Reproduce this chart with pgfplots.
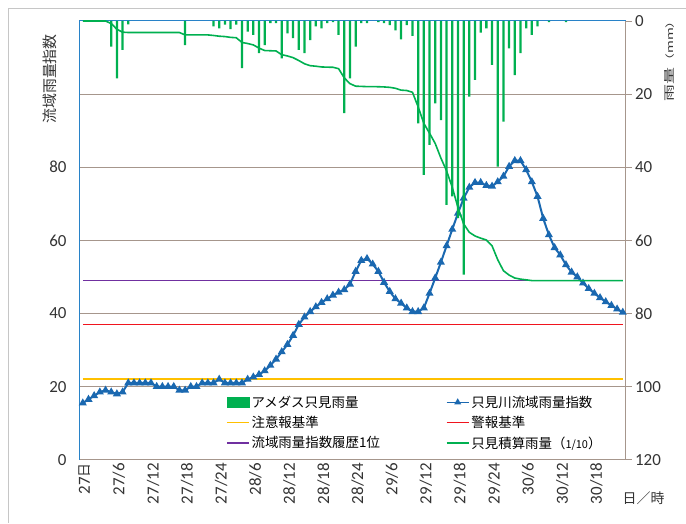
\documentclass[border=0pt]{standalone}
\usepackage{pgfplots}
\usepackage{pgfplotstable}
\pgfplotsset{compat=1.18}
\usepackage{fontspec}
\setmainfont{Carlito}
\newfontfamily\jp{Noto Sans CJK JP}
\definecolor{cblue}{RGB}{26,104,176}
\definecolor{cgreen}{RGB}{0,176,80}
\definecolor{cyellow}{RGB}{255,192,0}
\definecolor{cred}{RGB}{240,20,30}
\definecolor{cpurple}{RGB}{112,48,160}
\definecolor{cgrid}{RGB}{166,150,140}
\definecolor{caxblue}{RGB}{40,130,200}

\pgfplotstableread{
i v
0 15.5
1 16.5
2 17.5
3 18.5
4 19
5 18.5
6 18
7 18.5
8 21
9 21
10 21
11 21
12 21
13 20
14 20
15 20
16 20
17 19
18 19
19 20
20 20
21 21
22 21
23 21
24 22
25 21
26 21
27 21
28 21
29 22
30 22.6
31 23.3
32 24.3
33 25.8
34 27.5
35 29.5
36 31.5
37 34
38 37
39 39
40 40.5
41 41.8
42 43
43 44
44 45
45 45.8
46 46.5
47 48
48 51.5
49 54.5
50 55
51 53.5
52 51.5
53 48.5
54 46
55 44
56 42.8
57 41.5
58 40.5
59 40.5
60 41.5
61 45.5
62 49.7
63 54
64 58.5
65 63
66 67.4
67 71.5
68 74.5
69 75.8
70 75.8
71 75
72 74.8
73 76
74 77.5
75 80.2
76 81.8
77 81.8
78 79.3
79 76
80 72
81 66
82 61.5
83 58
84 56
85 53.3
86 51.3
87 50
88 48.3
89 46.8
90 45.5
91 44.3
92 43.2
93 42.2
94 41.2
95 40.3
}\idx

\pgfplotstableread{
i r
5 7.0
6 15.7
7 7.9
8 0.9
18 6.6
23 1.5
24 2.0
25 1.0
26 2.2
27 1.0
28 12.9
29 2.9
30 3.8
31 8.8
32 6.6
33 0.6
34 0.6
35 10.2
36 3.4
37 4.7
38 7.9
39 8.8
40 5.2
41 1.5
42 2.0
43 0.6
44 0.3
45 3.8
46 25.2
47 15.7
48 7.0
49 0.6
50 0.6
52 0.3
53 0.6
54 1.1
55 2.6
56 5.0
57 1.1
58 4.1
59 28.0
60 42.1
61 33.9
62 22.5
63 27.1
64 50.3
65 48.0
66 53.9
67 69.4
68 20.7
69 16.1
70 3.2
71 2.0
72 12.0
73 39.8
74 27.5
75 7.5
76 14.8
77 8.8
78 2.0
79 3.8
80 1.5
82 0.3
85 0.3
}\rain

\pgfplotstableread{
i c
0 0
1 0
2 0
3 0
4 0
5 0.70
6 2.27
7 3.06
8 3.15
9 3.15
10 3.15
11 3.15
12 3.15
13 3.15
14 3.15
15 3.15
16 3.15
17 3.15
18 3.81
19 3.81
20 3.81
21 3.81
22 3.81
23 3.96
24 4.16
25 4.26
26 4.48
27 4.58
28 5.87
29 6.16
30 6.54
31 7.42
32 8.08
33 8.14
34 8.20
35 9.22
36 9.56
37 10.03
38 10.82
39 11.70
40 12.22
41 12.37
42 12.57
43 12.63
44 12.66
45 13.04
46 15.56
47 17.13
48 17.83
49 17.89
50 17.95
51 17.95
52 17.98
53 18.04
54 18.15
55 18.41
56 18.91
57 19.02
58 19.5
59 23.5
60 28.0
61 30.7
62 33.5
63 37.5
64 41.0
65 45.5
66 51.0
67 55.5
68 57.8
69 58.8
70 59.4
71 59.9
72 61.5
73 65.3
74 68.3
75 69.5
76 70.3
77 70.6
78 70.8
79 71.0
80 71.0
81 71.0
82 71.0
83 71.0
84 71.0
85 71.0
86 71.0
87 71.0
88 71.0
89 71.0
90 71.0
91 71.0
92 71.0
93 71.0
94 71.0
95 71.0
}\cum

\begin{document}
\begin{tikzpicture}
\path (0,0) rectangle (686bp,523bp);
\draw[gray!45, line width=0.8bp] (8bp,0) -- (8bp,515bp) -- (686bp,515bp);

\begin{axis}[
  at={(80bp,63bp)}, anchor=south west,
  width=546bp, height=439bp, scale only axis,
  xmin=-0.5, xmax=95.5, ymin=0, ymax=120,
  xtick={0,6,...,90},
  xticklabels={{27{\fontsize{14}{15}\jp 日}},27/6,27/12,27/18,27/24,28/6,28/12,28/18,28/24,29/6,29/12,29/18,29/24,30/6,30/12,30/18},
  ytick={0,20,40,60,80,100},
  yticklabels={0,20,40,60,80,{}},
  ymajorgrids, grid style={cgrid, line width=0.8bp},
  axis line style={draw=none},
  major tick length=0pt,
  tick label style={font=\fontsize{17}{18}\selectfont, text=black!80},
  xticklabel style={rotate=90, anchor=east, yshift=-2bp},
  yticklabel style={xshift=-10bp},
  /pgf/number format/assume math mode=true,
  clip=false,
]
\addplot[cyellow, line width=1.6bp] coordinates {(0,22) (95,22)};
\addplot[cred, line width=1.6bp] coordinates {(0,37) (95,37)};
\addplot[cpurple, line width=1.6bp] coordinates {(0,49) (95,49)};
\addplot[cblue, line width=2bp, mark=triangle*, mark size=2.7bp, mark options={solid, fill=cblue}] table[x=i, y=v]{\idx};
\draw[cgrid, line width=0.8bp] (rel axis cs:0,0) -- (rel axis cs:1,0) -- (rel axis cs:1,1);
\draw[caxblue, line width=1bp] (rel axis cs:0,0) -- (rel axis cs:0,1) -- (rel axis cs:1,1);
\end{axis}

\begin{axis}[
  at={(80bp,63bp)}, anchor=south west,
  width=546bp, height=439bp, scale only axis,
  xmin=-0.5, xmax=95.5, ymin=0, ymax=120, y dir=reverse,
  axis line style={draw=none},
  xtick=\empty,
  ytick={0,20,...,120},
  ytick pos=right, yticklabel pos=right,
  tick align=outside, major tick length=6bp,
  tick style={cgrid, line width=0.8bp},
  tick label style={font=\fontsize{17}{18}\selectfont, text=black!80},
  /pgf/number format/assume math mode=true,
  legend columns=2,
  legend cell align=left,
  legend style={at={(0.262,0.155)}, anchor=north west, draw=none, fill=none,
    font=\fontsize{13.5}{15}\jp, row sep=3.5bp,
    /tikz/every even column/.append style={column sep=64bp}},
  legend image code/.code={\draw[mark repeat=2, mark phase=2, #1] plot coordinates {(0bp,0bp) (11bp,0bp) (22bp,0bp)};},
]
\addplot[ybar, bar width=0.4, fill=cgreen, draw=none, forget plot] table[x=i, y=r]{\rain};
\addplot[cgreen, line width=1.6bp, forget plot] table[x=i, y=c]{\cum};

\addlegendimage{legend image code/.code={\fill[cgreen] (0bp,-5bp) rectangle (22bp,5bp);}}
\addlegendentry{アメダス只見雨量}
\addlegendimage{cblue, line width=1.5bp, mark=triangle*, mark size=2.6bp, mark options={fill=cblue}}
\addlegendentry{只見川流域雨量指数}
\addlegendimage{cyellow, line width=1.5bp}
\addlegendentry{注意報基準}
\addlegendimage{cred, line width=1.5bp}
\addlegendentry{警報基準}
\addlegendimage{cpurple, line width=1.5bp}
\addlegendentry{流域雨量指数履歴1位}
\addlegendimage{cgreen, line width=1.5bp}
\addlegendentry{只見積算雨量（{\fontsize{11}{12}\selectfont 1/10}）}
\end{axis}

\node[rotate=90, font=\fontsize{15}{16}\jp, text=black!80] at (50bp,444bp) {流域雨量指数};
\node[rotate=90, text=black!80] at (670bp,465bp) {\scalebox{1.55}[1]{\fontsize{11}{12}\jp 雨量\fontsize{9}{10}\selectfont（mm）}};
\node[font=\fontsize{14}{15}\jp, text=black!80] at (644bp,25bp) {日／時};
\end{tikzpicture}
\end{document}
